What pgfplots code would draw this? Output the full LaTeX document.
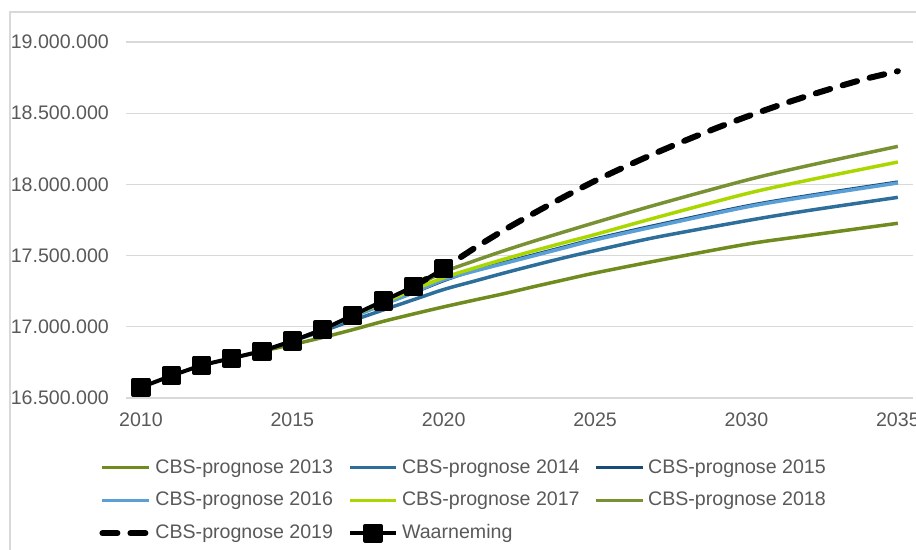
\documentclass[border=0pt]{standalone}
\usepackage{fontspec}
\setmainfont{Liberation Sans}
\usepackage{pgfplots}
\pgfplotsset{compat=1.18}
\definecolor{cA}{RGB}{112,140,30}
\definecolor{cB}{RGB}{46,110,155}
\definecolor{cC}{RGB}{25,75,120}
\definecolor{cD}{RGB}{90,160,215}
\definecolor{cE}{RGB}{170,215,0}
\definecolor{cF}{RGB}{120,145,50}
\definecolor{txt}{RGB}{89,89,89}
\definecolor{gridc}{RGB}{217,217,217}
\begin{document}
\fontsize{9.8}{12}\selectfont
\begin{tikzpicture}
\useasboundingbox (0,0) rectangle (458pt,275pt);
\draw[gridc, line width=0.6pt] (5pt,-2pt) -- (5pt,269pt) -- (462pt,269pt);
\begin{axis}[
  at={(62.9pt,76pt)}, anchor=south west,
  scale only axis, width=393.6pt, height=178pt,
  xmin=2009.5, xmax=2035.5, ymin=16500000, ymax=19000000,
  xtick={2010,2015,2020,2025,2030,2035},
  ytick={16500000,17000000,17500000,18000000,18500000,19000000},
  scaled y ticks=false,
  axis line style={draw=none},
  major tick length=0pt,
  ymajorgrids, grid style={gridc, line width=0.65pt},
  /pgf/number format/assume math mode=true,
  yticklabel style={/pgf/number format/fixed, /pgf/number format/precision=0, /pgf/number format/1000 sep={.}, xshift=-5pt},
  xticklabel style={/pgf/number format/1000 sep={}, yshift=-4pt},
  tick label style={text=txt, font=\fontsize{9.8}{12}\selectfont},
  clip=false,
  legend columns=3,
  legend cell align=left,
  legend style={draw=none, fill=none, at={(-0.034,-0.160)}, anchor=north west,
    inner sep=0pt, font=\fontsize{9.8}{12}\selectfont, text=txt,
    /tikz/every even column/.append style={column sep=5.5pt},
    /tikz/row sep=4pt},
  legend image code/.code={\draw[mark repeat=2,mark phase=2,#1] plot coordinates {(0pt,0pt) (11.5pt,0pt) (23pt,0pt)};},
  every axis plot/.append style={line join=round},
]
\addplot[cA, line width=1.75pt, smooth, tension=0.5] coordinates {
(2013,16780000) (2014,16829000) (2015,16875000) (2016,16925000) (2017,16980000)
(2018,17038000) (2019,17090000) (2020,17140000) (2021,17187000) (2022,17233000)
(2023,17283000) (2024,17331000) (2025,17378000) (2027,17462000) (2030,17580000)
(2032,17640000) (2035,17727000)};
\addlegendentry{CBS-prognose 2013}
\addplot[cB, line width=1.75pt, smooth, tension=0.5] coordinates {
(2014,16829000) (2015,16900000) (2016,16970000) (2017,17045000) (2018,17118000)
(2019,17190000) (2020,17262000) (2021,17320000) (2022,17378000) (2023,17433000)
(2024,17486000) (2025,17535000) (2027,17628000) (2030,17745000) (2032,17815000)
(2035,17909000)};
\addlegendentry{CBS-prognose 2014}
\addplot[cC, line width=1.75pt, smooth, tension=0.5] coordinates {
(2015,16901000) (2016,16985000) (2017,17075000) (2018,17160000) (2019,17240000)
(2020,17325000) (2021,17396000) (2022,17451000) (2023,17506000) (2024,17561000)
(2025,17616000) (2027,17712000) (2030,17847000) (2032,17919000) (2035,18016000)};
\addlegendentry{CBS-prognose 2015}
\addplot[cD, line width=1.75pt, smooth, tension=0.5] coordinates {
(2016,16979000) (2017,17070000) (2018,17155000) (2019,17240000) (2020,17330000)
(2021,17390000) (2022,17445000) (2023,17500000) (2024,17555000) (2025,17610000)
(2027,17705000) (2030,17841000) (2032,17913000) (2035,18010000)};
\addlegendentry{CBS-prognose 2016}
\addplot[cE, line width=1.75pt, smooth, tension=0.5] coordinates {
(2017,17081000) (2018,17170000) (2019,17260000) (2020,17345000) (2021,17412000)
(2022,17475000) (2023,17535000) (2024,17592000) (2025,17648000) (2027,17766000)
(2030,17935000) (2032,18028000) (2035,18157000)};
\addlegendentry{CBS-prognose 2017}
\addplot[cF, line width=1.75pt, smooth, tension=0.5] coordinates {
(2018,17181000) (2019,17280000) (2020,17385000) (2021,17462000) (2022,17535000)
(2023,17603000) (2024,17668000) (2025,17732000) (2027,17856000) (2030,18030000)
(2032,18130000) (2035,18267000)};
\addlegendentry{CBS-prognose 2018}
\addplot[black, line width=3pt, line cap=round, dash pattern=on 7.5pt off 6.5pt, smooth, tension=0.5] coordinates {
(2019,17282000) (2020,17410000) (2021,17550000) (2022,17680000) (2023,17800000)
(2024,17915000) (2025,18025000) (2026,18125000) (2027,18220000) (2028,18310000)
(2029,18395000) (2030,18475000) (2031,18550000) (2032,18620000) (2033,18685000)
(2034,18745000) (2035,18795000)};
\addlegendentry{CBS-prognose 2019}
\addplot[black, line width=2pt, mark=square*, mark size=3.8pt, mark options={solid, rounded corners=1.3pt}] coordinates {
(2010,16574989) (2011,16655799) (2012,16730348) (2013,16779575) (2014,16829289)
(2015,16900726) (2016,16979120) (2017,17081507) (2018,17181084) (2019,17282163)
(2020,17407585)};
\addlegendentry{Waarneming}
\end{axis}
\end{tikzpicture}
\end{document}
